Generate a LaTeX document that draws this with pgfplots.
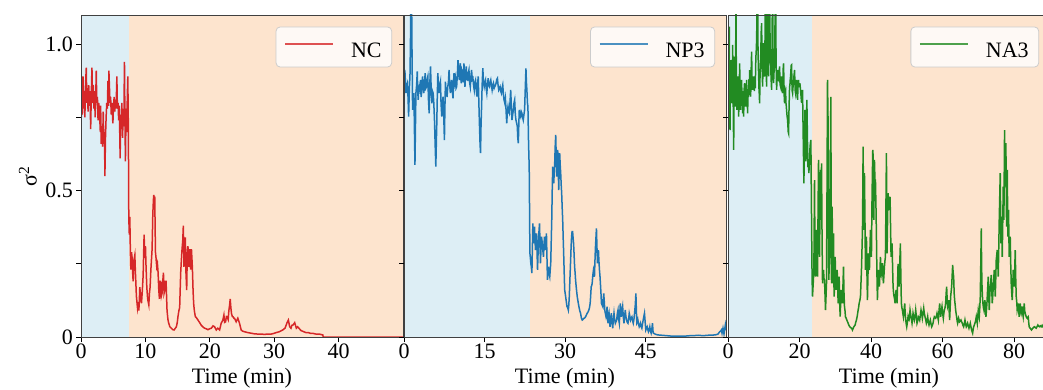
\documentclass[border=0pt]{standalone}
\usepackage{fontspec}
\setmainfont{Liberation Serif}
\usepackage{pgfplots}
\pgfplotsset{compat=1.18}
\definecolor{bgblue}{RGB}{221,238,245}
\definecolor{bgorange}{RGB}{253,228,206}
\definecolor{cred}{RGB}{214,39,40}
\definecolor{cblue}{RGB}{31,119,180}
\definecolor{cgreen}{RGB}{34,139,34}
\pgfplotsset{
 panel/.style={
  scale only axis, width=322pt, height=322pt, ymin=0, ymax=1.1,
  axis on top, tick align=outside, xtick pos=left, ytick pos=left,
  major tick length=5pt, tick style={black, line width=0.8pt},
  axis line style={black!75, line width=0.9pt},
  ytick={0,0.25,0.5,0.75,1}, yticklabels={},
  /pgf/number format/assume math mode=true,
  every x tick label/.style={anchor=north, inner sep=0pt, yshift=-2pt},
  every y tick label/.style={anchor=east, inner sep=0pt, xshift=-3pt},
  xlabel={Time (min)},
  every axis x label/.style={at={(rel axis cs:0.5,0)}, anchor=base, yshift=-46pt},
  every axis y label/.style={at={(rel axis cs:-0.165,0.5)}, anchor=center, rotate=90},
  legend style={at={(rel axis cs:0.966,0.964)}, anchor=north east, draw=black!20, fill=white, fill opacity=0.8, text opacity=1, rounded corners=4pt, line width=0.8pt, inner sep=0pt, nodes={inner sep=0pt}},
  legend cell align=left,
  legend image code/.code={\path[draw=none, fill=none] (0pt,-15pt) rectangle (75pt,25pt); \draw[#1, line width=1.5pt, opacity=0.8] (9pt,8pt) -- (57pt,8pt);},
 }
}
\begin{document}
\fontsize{22}{26}\selectfont
\begin{tikzpicture}
\useasboundingbox (0pt,0pt) rectangle (1043pt,-390pt);
% ---------------- Panel 1: NC
\begin{axis}[panel, at={(81pt,-337pt)}, anchor=south west, xmin=0, xmax=50,
  xtick={0,10,20,30,40}, yticklabels={0,,0.5,,1.0}, ylabel={σ\textsuperscript{2}}]
\addplot[draw=none, fill=bgblue, forget plot] coordinates {(0,1.1) (7.5,1.1)} \closedcycle;
\addplot[draw=none, fill=bgorange, forget plot] coordinates {(7.5,1.1) (50,1.1)} \closedcycle;
\addplot[cred, line width=1.5pt] coordinates {
(0,0.72) (0.1,0.80) (0.2,0.76) (0.31,0.89) (0.4,0.78) (0.5,0.84) (0.6,0.75) (0.7,0.86) (0.82,0.92) (0.9,0.80) (1.0,0.85) (1.1,0.77) (1.2,0.86) (1.3,0.79) (1.4,0.84) (1.5,0.71) (1.6,0.83) (1.7,0.92) (1.8,0.80) (1.9,0.86) (2.0,0.78) (2.1,0.84) (2.2,0.75) (2.3,0.83) (2.37,0.91) (2.45,0.80) (2.55,0.82) (2.65,0.74) (2.75,0.80) (2.89,0.76) (3.0,0.70) (3.05,0.79) (3.14,0.66) (3.25,0.72) (3.35,0.65) (3.45,0.77) (3.55,0.66) (3.65,0.70) (3.71,0.55) (3.8,0.68) (3.9,0.75) (4.0,0.80) (4.1,0.78) (4.18,0.875) (4.3,0.79) (4.33,0.91) (4.5,0.80) (4.6,0.82) (4.7,0.76) (4.8,0.80) (4.95,0.73) (5.05,0.79) (5.15,0.82) (5.25,0.77) (5.35,0.81) (5.45,0.78) (5.57,0.89) (5.65,0.78) (5.75,0.80) (5.85,0.74) (5.95,0.79) (6.08,0.61) (6.15,0.76) (6.25,0.71) (6.35,0.80) (6.45,0.68) (6.55,0.76) (6.65,0.72) (6.75,0.94) (6.82,0.75) (6.9,0.60) (7.0,0.78) (7.1,0.70) (7.2,0.83) (7.27,0.89) (7.35,0.72) (7.42,0.41) (7.5,0.35)
(7.58,0.41) (7.66,0.30) (7.74,0.23) (7.84,0.29) (7.94,0.27) (8.02,0.22) (8.10,0.19) (8.2,0.26) (8.36,0.28) (8.45,0.22) (8.51,0.19) (8.6,0.14) (8.77,0.10) (8.88,0.12) (8.98,0.09) (9.05,0.12) (9.13,0.17) (9.25,0.14) (9.39,0.115) (9.5,0.15) (9.65,0.21) (9.72,0.28) (9.80,0.35) (9.9,0.27) (10.01,0.31) (10.1,0.24) (10.22,0.17) (10.35,0.13) (10.53,0.11) (10.63,0.15) (10.73,0.17) (10.85,0.23) (11.04,0.30) (11.15,0.42) (11.25,0.47) (11.30,0.485) (11.38,0.44) (11.45,0.48) (11.56,0.29) (11.65,0.27) (11.76,0.24) (11.87,0.25) (11.97,0.22) (12.08,0.16) (12.18,0.13) (12.28,0.19) (12.38,0.19) (12.48,0.14) (12.59,0.15) (12.7,0.19) (12.80,0.22) (12.9,0.15) (13.0,0.16) (13.1,0.19) (13.21,0.19) (13.36,0.09) (13.5,0.06) (13.62,0.047) (13.8,0.035) (14.03,0.03) (14.25,0.025) (14.45,0.024) (14.65,0.03) (14.81,0.035) (14.95,0.05) (15.06,0.07) (15.2,0.09) (15.32,0.10) (15.4,0.16) (15.48,0.22) (15.58,0.26) (15.69,0.30) (15.8,0.33) (15.89,0.38) (15.99,0.24) (16.1,0.30) (16.20,0.34) (16.3,0.22) (16.41,0.16) (16.5,0.28) (16.61,0.31) (16.7,0.24) (16.87,0.30) (16.95,0.25) (17.03,0.23) (17.15,0.30) (17.29,0.24) (17.4,0.16) (17.49,0.115) (17.6,0.09) (17.75,0.07) (17.95,0.065) (18.16,0.058) (18.4,0.05) (18.68,0.04) (18.9,0.035) (19.19,0.03) (19.45,0.028) (19.71,0.025) (19.95,0.028) (20.23,0.03) (20.5,0.038) (20.74,0.035) (21.0,0.024) (21.25,0.03) (21.52,0.024) (21.77,0.047) (22.03,0.058) (22.19,0.075) (22.3,0.05) (22.45,0.052) (22.58,0.07) (22.70,0.069) (22.85,0.06) (22.96,0.09) (23.08,0.11) (23.17,0.13) (23.27,0.10) (23.37,0.08) (23.5,0.07) (23.63,0.069) (23.75,0.064) (23.84,0.064) (24.09,0.052) (24.35,0.064) (24.61,0.047) (24.87,0.024) (25.1,0.02) (25.39,0.018) (25.9,0.015) (26.42,0.013) (26.9,0.011) (27.45,0.01) (28.0,0.01) (28.48,0.009) (29.0,0.01) (29.52,0.01) (29.9,0.012) (30.29,0.015) (30.8,0.018) (31.32,0.024) (31.68,0.03) (31.85,0.04) (31.99,0.049) (32.2,0.058) (32.4,0.035) (32.61,0.03) (32.75,0.04) (32.92,0.041) (33.05,0.045) (33.18,0.049) (33.44,0.03) (33.64,0.035) (34.16,0.022) (34.93,0.015) (35.3,0.015) (35.71,0.012) (36.1,0.012) (36.48,0.01) (37.0,0.01) (37.56,0.007) (37.6,0) (50,0)
};
\addlegendentry{NC\kern10pt}
\end{axis}
% ---------------- Panel 2: NP3
\begin{axis}[panel, at={(404pt,-337pt)}, anchor=south west, xmin=0, xmax=60,
  xtick={0,15,30,45}]
\addplot[draw=none, fill=bgblue, forget plot] coordinates {(0,1.1) (23.4,1.1)} \closedcycle;
\addplot[draw=none, fill=bgorange, forget plot] coordinates {(23.4,1.1) (60,1.1)} \closedcycle;
\addplot[cblue, line width=1.5pt] coordinates {
(0,0.89) (0.19,0.90) (0.37,0.833) (0.5,0.86) (0.62,0.867) (0.75,0.82) (0.86,0.753) (1.0,0.85) (1.11,0.89) (1.2,1.0) (1.30,1.2) (1.40,1.2) (1.48,1.0) (1.60,0.776) (1.72,0.80) (1.85,0.833) (1.95,0.70) (2.04,0.588) (2.12,0.70) (2.22,0.833) (2.35,0.86) (2.47,0.907) (2.56,0.84) (2.65,0.81) (2.75,0.85) (2.84,0.844) (2.95,0.86) (3.09,0.878) (3.18,0.82) (3.27,0.833) (3.36,0.87) (3.46,0.89) (3.58,0.85) (3.70,0.833) (3.82,0.87) (3.95,0.901) (4.07,0.85) (4.20,0.855) (4.32,0.88) (4.44,0.89) (4.56,0.81) (4.69,0.764) (4.8,0.86) (4.94,0.924) (5.06,0.85) (5.19,0.798) (5.3,0.84) (5.43,0.833) (5.55,0.80) (5.68,0.741) (5.8,0.66) (5.93,0.582) (6.02,0.66) (6.11,0.73) (6.2,0.82) (6.30,0.901) (6.42,0.86) (6.54,0.833) (6.66,0.86) (6.79,0.872) (6.9,0.80) (7.04,0.753) (7.16,0.80) (7.28,0.821) (7.4,0.76) (7.53,0.673) (7.62,0.78) (7.72,0.872) (7.8,0.84) (7.90,0.844) (8.02,0.82) (8.15,0.855) (8.28,0.87) (8.40,0.912) (8.52,0.86) (8.64,0.833) (8.77,0.86) (8.89,0.878) (9.0,0.84) (9.14,0.815) (9.23,0.87) (9.32,0.901) (9.45,0.87) (9.57,0.884) (9.7,0.85) (9.81,0.855) (9.95,0.90) (10.06,0.946) (10.18,0.90) (10.31,0.878) (10.4,0.92) (10.49,0.935) (10.6,0.88) (10.68,0.867) (10.8,0.91) (10.93,0.901) (11.05,0.87) (11.17,0.935) (11.27,0.88) (11.36,0.855) (11.48,0.90) (11.60,0.924) (11.72,0.88) (11.85,0.878) (11.97,0.90) (12.10,0.912) (12.22,0.87) (12.35,0.855) (12.47,0.89) (12.59,0.912) (12.72,0.88) (12.84,0.884) (12.96,0.86) (13.09,0.844) (13.2,0.87) (13.33,0.878) (13.45,0.85) (13.58,0.821) (13.7,0.86) (13.83,0.89) (13.95,0.80) (14.07,0.719) (14.17,0.66) (14.26,0.628) (14.35,0.72) (14.44,0.776) (14.56,0.86) (14.69,0.918) (14.8,0.87) (14.94,0.855) (15.06,0.87) (15.19,0.878) (15.3,0.85) (15.43,0.833) (15.55,0.86) (15.68,0.884) (15.8,0.86) (15.93,0.855) (16.05,0.87) (16.17,0.878) (16.3,0.86) (16.42,0.844) (16.55,0.86) (16.67,0.867) (16.8,0.85) (16.91,0.855) (17.03,0.86) (17.16,0.867) (17.28,0.88) (17.41,0.884) (17.53,0.86) (17.65,0.844) (17.78,0.85) (17.90,0.855) (18.02,0.84) (18.15,0.833) (18.27,0.85) (18.40,0.861) (18.52,0.83) (18.64,0.81) (18.77,0.80) (18.89,0.815) (19.0,0.78) (19.14,0.73) (19.26,0.77) (19.38,0.787) (19.5,0.77) (19.63,0.764) (19.75,0.80) (19.88,0.844) (20.0,0.79) (20.12,0.741) (20.25,0.76) (20.37,0.776) (20.5,0.80) (20.62,0.81) (20.74,0.76) (20.86,0.741) (21.0,0.73) (21.11,0.719) (21.2,0.68) (21.30,0.662) (21.4,0.73) (21.48,0.776) (21.6,0.76) (21.73,0.753) (21.85,0.77) (21.98,0.764) (22.1,0.75) (22.22,0.741) (22.35,0.76) (22.47,0.776) (22.6,0.85) (22.72,0.918) (22.81,0.87) (22.90,0.844) (23.0,0.80) (23.09,0.787) (23.21,0.66) (23.33,0.58) (23.46,0.286)
(23.55,0.27) (23.64,0.25) (23.73,0.24) (23.83,0.218) (23.92,0.30) (24.01,0.388) (24.1,0.34) (24.2,0.32) (24.32,0.377) (24.41,0.33) (24.5,0.297) (24.6,0.33) (24.69,0.354) (24.78,0.30) (24.88,0.229) (24.97,0.28) (25.06,0.331) (25.15,0.36) (25.25,0.388) (25.34,0.32) (25.43,0.252) (25.52,0.30) (25.62,0.343) (25.71,0.33) (25.8,0.309) (25.9,0.29) (25.99,0.274) (26.08,0.31) (26.17,0.343) (26.27,0.32) (26.36,0.297) (26.45,0.33) (26.54,0.354) (26.63,0.28) (26.73,0.195) (26.82,0.22) (26.91,0.24) (27.0,0.22) (27.16,0.206) (27.25,0.23) (27.34,0.252) (27.44,0.33) (27.53,0.40) (27.62,0.50) (27.71,0.582) (27.8,0.55) (27.9,0.525) (27.99,0.56) (28.08,0.593) (28.17,0.65) (28.27,0.69) (28.36,0.62) (28.46,0.548) (28.55,0.60) (28.64,0.639) (28.73,0.58) (28.83,0.502) (28.92,0.57) (29.01,0.628) (29.1,0.59) (29.2,0.559) (29.29,0.52) (29.38,0.491) (29.48,0.44) (29.57,0.40) (29.66,0.34) (29.75,0.286) (29.85,0.22) (29.94,0.161) (30.03,0.15) (30.12,0.138) (30.25,0.12) (30.37,0.104) (30.5,0.10) (30.62,0.092) (30.71,0.11) (30.80,0.138) (30.92,0.20) (31.05,0.263) (31.14,0.31) (31.23,0.343) (31.32,0.36) (31.42,0.36) (31.5,0.34) (31.60,0.32) (31.7,0.28) (31.79,0.24) (31.88,0.22) (31.97,0.195) (32.12,0.165) (32.28,0.138) (32.44,0.12) (32.59,0.104) (32.75,0.09) (32.9,0.081) (33.05,0.065) (33.21,0.058) (33.36,0.06) (33.52,0.064) (33.67,0.065) (33.83,0.069) (33.98,0.075) (34.13,0.081) (34.28,0.085) (34.44,0.092) (34.56,0.10) (34.69,0.115) (34.78,0.14) (34.88,0.172) (34.97,0.175) (35.06,0.183) (35.18,0.21) (35.31,0.229) (35.4,0.22) (35.49,0.206) (35.58,0.26) (35.68,0.309) (35.77,0.34) (35.86,0.371) (35.95,0.31) (36.05,0.252) (36.14,0.27) (36.23,0.297) (36.32,0.26) (36.42,0.229) (36.51,0.21) (36.60,0.183) (36.7,0.15) (36.79,0.115) (36.9,0.11) (37.04,0.104) (37.13,0.13) (37.22,0.149) (37.32,0.12) (37.41,0.092) (37.53,0.08) (37.65,0.069) (37.75,0.08) (37.84,0.104) (37.93,0.07) (38.02,0.047) (38.11,0.07) (38.21,0.081) (38.3,0.06) (38.39,0.035) (38.52,0.06) (38.64,0.081) (38.76,0.05) (38.89,0.03) (39.01,0.06) (39.13,0.081) (39.25,0.06) (39.38,0.047) (39.5,0.052) (39.63,0.058) (39.75,0.08) (39.88,0.092) (40.0,0.06) (40.12,0.047) (40.21,0.08) (40.31,0.115) (40.4,0.09) (40.49,0.069) (40.62,0.09) (40.74,0.104) (40.86,0.07) (40.99,0.047) (41.11,0.07) (41.23,0.092) (41.35,0.07) (41.48,0.058) (41.6,0.05) (41.73,0.047) (41.85,0.06) (41.97,0.081) (42.1,0.07) (42.22,0.058) (42.35,0.065) (42.47,0.069) (42.6,0.055) (42.72,0.047) (42.84,0.06) (42.96,0.081) (43.1,0.11) (43.21,0.149) (43.3,0.09) (43.39,0.047) (43.48,0.05) (43.58,0.058) (43.7,0.045) (43.83,0.035) (43.95,0.04) (44.07,0.047) (44.2,0.035) (44.32,0.03) (44.45,0.045) (44.57,0.058) (44.69,0.07) (44.81,0.081) (44.94,0.05) (45.06,0.024) (45.18,0.03) (45.31,0.035) (45.43,0.025) (45.55,0.018) (45.68,0.025) (45.8,0.035) (45.92,0.02) (46.05,0.013) (46.17,0.025) (46.3,0.047) (46.4,0.02) (46.48,0.013) (46.79,0.01) (47.1,0.008) (47.41,0.007) (48.0,0.006) (48.64,0.005) (49.3,0.004) (49.88,0.003) (50.5,0.003) (51.11,0.003) (51.7,0.003) (52.35,0.003) (53.0,0.004) (53.58,0.005) (54.2,0.005) (54.81,0.006) (55.4,0.005) (56.05,0.005) (56.7,0.006) (57.28,0.006) (57.8,0.007) (58.21,0.008) (58.52,0.01) (58.7,0.015) (58.83,0.018) (59.0,0.02) (59.14,0.024) (59.26,0.013) (59.44,0.03) (59.63,0.01) (59.75,0.025) (59.88,0.041) (60.0,0.024)
};
\addlegendentry{NP3\kern10pt}
\end{axis}
% ---------------- Panel 3: NA3
\begin{axis}[panel, at={(728pt,-337pt)}, anchor=south west, xmin=0, xmax=90,
  xtick={0,20,40,60,80}]
\addplot[draw=none, fill=bgblue, forget plot] coordinates {(0,1.1) (23.4,1.1)} \closedcycle;
\addplot[draw=none, fill=bgorange, forget plot] coordinates {(23.4,1.1) (90,1.1)} \closedcycle;
\addplot[cgreen, line width=1.5pt] coordinates {
(0,0.80) (0.1,0.86) (0.19,0.833) (0.28,0.95) (0.37,1.06) (0.46,0.80) (0.56,0.707) (0.65,0.85) (0.75,0.80) (0.84,0.946) (0.93,0.82) (1.02,0.86) (1.12,0.798) (1.21,0.90) (1.30,0.998) (1.4,0.85) (1.49,0.76) (1.58,0.639) (1.67,0.80) (1.77,0.958) (1.86,0.84) (1.95,0.82) (2.05,0.787) (2.14,0.95) (2.23,1.2) (2.32,0.90) (2.42,0.82) (2.51,0.776) (2.6,0.85) (2.7,0.80) (2.79,0.89) (2.88,0.80) (2.98,0.753) (3.07,0.82) (3.16,0.86) (3.26,0.935) (3.35,0.84) (3.44,0.79) (3.53,0.776) (3.62,0.84) (3.72,0.82) (3.81,0.878) (3.9,0.80) (4.0,0.82) (4.09,0.764) (4.18,0.84) (4.28,0.80) (4.37,0.753) (4.46,0.82) (4.56,0.86) (4.65,0.867) (4.74,0.80) (4.84,0.84) (4.93,0.787) (5.02,0.83) (5.12,0.85) (5.21,0.878) (5.3,0.82) (5.4,0.80) (5.49,0.764) (5.58,0.84) (5.68,0.82) (5.77,0.833) (5.86,0.88) (5.96,0.85) (6.05,0.912) (6.14,0.86) (6.24,0.83) (6.33,0.821) (6.42,0.88) (6.51,0.93) (6.6,0.975) (6.7,0.88) (6.79,0.86) (6.88,0.844) (6.98,0.89) (7.07,0.85) (7.16,0.89) (7.26,0.87) (7.35,0.84) (7.44,0.855) (7.53,0.89) (7.63,0.85) (7.72,0.924) (7.81,0.96) (7.9,0.98) (8.0,1.015) (8.09,1.1) (8.18,1.15) (8.28,1.2) (8.37,1.0) (8.46,0.94) (8.56,0.89) (8.65,0.85) (8.74,0.83) (8.84,0.798) (8.93,0.88) (9.02,0.92) (9.12,0.946) (9.21,1.0) (9.3,1.05) (9.4,1.072) (9.49,0.95) (9.58,0.90) (9.67,0.855) (9.77,0.92) (9.86,0.98) (9.95,1.004) (10.05,0.93) (10.14,0.90) (10.23,0.89) (10.33,1.0) (10.42,1.15) (10.51,1.2) (10.6,1.0) (10.7,0.90) (10.79,0.855) (10.88,0.95) (10.98,1.1) (11.07,1.2) (11.16,1.0) (11.26,0.92) (11.35,0.89) (11.44,1.0) (11.54,1.15) (11.63,1.2) (11.72,1.05) (11.81,0.98) (11.91,0.946) (12.0,0.90) (12.09,0.87) (12.19,0.844) (12.28,0.95) (12.37,1.1) (12.47,1.2) (12.56,1.0) (12.65,0.90) (12.74,0.867) (12.84,0.90) (12.93,0.92) (13.02,0.935) (13.12,1.05) (13.21,1.15) (13.3,1.2) (13.4,1.0) (13.49,0.90) (13.58,0.844) (13.67,0.87) (13.77,0.89) (13.86,0.912) (13.95,0.89) (14.05,0.88) (14.14,0.878) (14.23,0.90) (14.33,0.91) (14.42,0.924) (14.51,0.88) (14.6,0.86) (14.7,0.855) (14.79,0.87) (14.88,0.88) (14.98,0.89) (15.07,0.86) (15.16,0.84) (15.26,0.833) (15.35,0.88) (15.44,0.92) (15.53,0.935) (15.63,0.87) (15.72,0.82) (15.81,0.798) (15.9,0.83) (16.0,0.84) (16.09,0.844) (16.19,0.80) (16.28,0.79) (16.37,0.776) (16.47,0.76) (16.56,0.75) (16.65,0.741) (16.75,0.72) (16.84,0.70) (16.93,0.696) (17.02,0.76) (17.12,0.81) (17.21,0.855) (17.3,0.86) (17.4,0.88) (17.49,0.89) (17.58,0.91) (17.68,0.929) (17.77,0.93) (17.86,0.87) (17.95,0.84) (18.05,0.833) (18.14,0.85) (18.23,0.86) (18.33,0.867) (18.42,0.89) (18.51,0.90) (18.6,0.912) (18.7,0.87) (18.79,0.84) (18.88,0.833) (18.98,0.85) (19.07,0.87) (19.16,0.878) (19.26,0.85) (19.35,0.83) (19.44,0.81) (19.54,0.85) (19.63,0.87) (19.72,0.878) (19.81,0.86) (19.91,0.855) (20.0,0.855) (20.09,0.867) (20.3,0.84) (20.56,0.80) (20.7,0.83) (20.83,0.844) (21.0,0.70) (21.21,0.525) (21.35,0.65) (21.49,0.776) (21.6,0.70) (21.76,0.60) (21.9,0.70) (22.04,0.81) (22.2,0.68) (22.32,0.58) (22.45,0.60) (22.6,0.56) (22.75,0.60) (22.88,0.639) (23.0,0.66) (23.16,0.673) (23.35,0.40) (23.5,0.20) (23.62,0.138)
(23.8,0.18) (24.0,0.229) (24.18,0.536) (24.3,0.30) (24.46,0.206) (24.6,0.30) (24.74,0.366) (24.88,0.25) (25.02,0.206) (25.15,0.40) (25.3,0.605) (25.45,0.40) (25.58,0.274) (25.72,0.45) (25.86,0.571) (26.0,0.40) (26.14,0.593) (26.28,0.35) (26.42,0.183) (26.55,0.21) (26.69,0.229) (26.83,0.20) (26.97,0.195) (27.1,0.15) (27.25,0.092) (27.4,0.14) (27.53,0.183) (27.67,0.50) (27.81,0.878) (28.0,0.707) (28.09,0.35) (28.18,0.195) (28.3,0.25) (28.46,0.297) (28.6,0.55) (28.74,0.82) (28.84,0.40) (28.93,0.183) (29.02,0.30) (29.11,0.445) (29.2,0.30) (29.3,0.183) (29.4,0.25) (29.49,0.354) (29.58,0.20) (29.67,0.138) (29.8,0.20) (29.95,0.274) (30.1,0.19) (30.23,0.161) (30.37,0.20) (30.51,0.229) (30.65,0.17) (30.79,0.115) (30.93,0.16) (31.07,0.206) (31.2,0.12) (31.35,0.07) (31.5,0.12) (31.62,0.161) (31.8,0.13) (32.0,0.115) (32.14,0.18) (32.28,0.24) (32.42,0.15) (32.56,0.104) (32.7,0.09) (32.83,0.069) (33.0,0.065) (33.21,0.058) (33.4,0.052) (33.58,0.047) (33.8,0.04) (34.04,0.035) (34.3,0.032) (34.51,0.03) (34.65,0.028) (34.79,0.024) (35.0,0.03) (35.16,0.035) (35.35,0.038) (35.53,0.041) (35.7,0.05) (35.9,0.058) (36.1,0.07) (36.37,0.092) (36.5,0.10) (36.65,0.115) (36.85,0.125) (37.02,0.138) (37.15,0.18) (37.3,0.229) (37.45,0.30) (37.58,0.366) (37.68,0.50) (37.76,0.65) (37.85,0.50) (37.95,0.366) (38.05,0.45) (38.14,0.56) (38.28,0.40) (38.42,0.229) (38.55,0.28) (38.69,0.343) (38.83,0.22) (38.97,0.126) (39.1,0.20) (39.25,0.286) (39.39,0.25) (39.53,0.229) (39.67,0.30) (39.81,0.366) (39.95,0.30) (40.09,0.274) (40.23,0.45) (40.37,0.571) (40.46,0.639) (40.56,0.62) (40.65,0.52) (40.74,0.40) (40.84,0.50) (40.93,0.605) (41.07,0.536) (41.21,0.536) (41.35,0.45) (41.49,0.343) (41.62,0.22) (41.76,0.126) (41.9,0.18) (42.04,0.229) (42.18,0.20) (42.32,0.172) (42.46,0.22) (42.6,0.274) (42.74,0.24) (42.88,0.218) (43.02,0.23) (43.16,0.252) (43.3,0.21) (43.44,0.183) (43.58,0.21) (43.72,0.24) (43.86,0.26) (44.0,0.274) (44.14,0.45) (44.28,0.628) (44.37,0.40) (44.46,0.286) (44.6,0.40) (44.74,0.491) (44.88,0.46) (45.02,0.434) (45.16,0.46) (45.3,0.479) (45.44,0.37) (45.58,0.274) (45.72,0.30) (45.86,0.32) (46.0,0.24) (46.14,0.172) (46.28,0.15) (46.42,0.138) (46.56,0.13) (46.7,0.115) (46.83,0.14) (46.97,0.161) (47.11,0.14) (47.25,0.115) (47.39,0.18) (47.53,0.25) (47.67,0.20) (47.81,0.172) (48.0,0.25) (48.18,0.32) (48.32,0.20) (48.46,0.115) (48.6,0.10) (48.74,0.092) (48.88,0.08) (49.02,0.069) (49.2,0.09) (49.39,0.115) (49.53,0.08) (49.67,0.058) (49.81,0.045) (49.95,0.035) (50.14,0.05) (50.32,0.069) (50.46,0.06) (50.6,0.058) (50.74,0.07) (50.88,0.092) (51.02,0.08) (51.16,0.069) (51.3,0.058) (51.44,0.047) (51.58,0.06) (51.72,0.081) (51.9,0.07) (52.09,0.058) (52.28,0.07) (52.46,0.092) (52.65,0.07) (52.83,0.047) (53.02,0.055) (53.21,0.069) (53.4,0.065) (53.58,0.058) (53.77,0.075) (53.95,0.092) (54.14,0.08) (54.32,0.064) (54.5,0.08) (54.7,0.098) (54.88,0.08) (55.07,0.069) (55.25,0.06) (55.44,0.047) (55.62,0.055) (55.81,0.069) (56.0,0.05) (56.18,0.041) (56.36,0.05) (56.55,0.058) (56.74,0.045) (56.93,0.035) (57.11,0.04) (57.3,0.047) (57.48,0.06) (57.67,0.069) (57.85,0.066) (58.04,0.064) (58.23,0.07) (58.42,0.081) (58.6,0.07) (58.79,0.058) (58.98,0.09) (59.16,0.115) (59.3,0.09) (59.44,0.069) (59.62,0.09) (59.81,0.104) (60.0,0.08) (60.18,0.064) (60.32,0.08) (60.46,0.092) (60.65,0.10) (60.83,0.115) (60.97,0.15) (61.11,0.172) (61.25,0.13) (61.39,0.104) (61.53,0.11) (61.67,0.126) (61.81,0.09) (61.95,0.058) (62.09,0.10) (62.23,0.138) (62.37,0.155) (62.51,0.172) (62.65,0.21) (62.79,0.246) (62.93,0.22) (63.07,0.206) (63.21,0.15) (63.35,0.126) (63.49,0.11) (63.63,0.092) (63.76,0.08) (63.9,0.069) (64.04,0.055) (64.18,0.047) (64.32,0.055) (64.46,0.064) (64.6,0.058) (64.74,0.052) (64.93,0.055) (65.11,0.058) (65.3,0.052) (65.49,0.047) (65.67,0.04) (65.86,0.035) (66.05,0.045) (66.23,0.058) (66.42,0.045) (66.6,0.035) (66.79,0.04) (66.97,0.047) (67.16,0.038) (67.35,0.03) (67.53,0.038) (67.72,0.047) (67.9,0.035) (68.09,0.024) (68.23,0.018) (68.37,0.013) (68.51,0.025) (68.65,0.035) (68.83,0.04) (69.02,0.047) (69.2,0.055) (69.39,0.069) (69.53,0.058) (69.67,0.047) (69.81,0.07) (69.95,0.092) (70.09,0.08) (70.23,0.069) (70.37,0.10) (70.51,0.138) (70.65,0.25) (70.79,0.371) (70.88,0.25) (70.97,0.183) (71.11,0.14) (71.25,0.115) (71.39,0.10) (71.53,0.092) (71.67,0.11) (71.81,0.126) (71.95,0.09) (72.09,0.069) (72.23,0.09) (72.37,0.115) (72.55,0.16) (72.74,0.206) (72.88,0.14) (73.02,0.092) (73.16,0.14) (73.3,0.172) (73.44,0.19) (73.58,0.212) (73.72,0.16) (73.86,0.115) (74.0,0.14) (74.14,0.172) (74.28,0.2) (74.42,0.229) (74.56,0.18) (74.7,0.138) (74.84,0.2) (74.97,0.263) (75.11,0.28) (75.25,0.297) (75.39,0.26) (75.53,0.206) (75.67,0.30) (75.81,0.40) (75.95,0.48) (76.09,0.56) (76.18,0.44) (76.28,0.32) (76.37,0.37) (76.46,0.411) (76.55,0.35) (76.65,0.274) (76.79,0.39) (76.93,0.514) (77.02,0.48) (77.11,0.40) (77.2,0.55) (77.3,0.707) (77.4,0.55) (77.49,0.514) (77.58,0.59) (77.67,0.662) (77.76,0.52) (77.86,0.377) (77.95,0.45) (78.05,0.571) (78.14,0.45) (78.23,0.343) (78.32,0.38) (78.42,0.434) (78.51,0.34) (78.6,0.274) (78.74,0.30) (78.88,0.343) (79.02,0.25) (79.16,0.183) (79.3,0.15) (79.44,0.126) (79.58,0.17) (79.72,0.229) (79.86,0.2) (80.0,0.172) (80.14,0.23) (80.28,0.297) (80.42,0.2) (80.56,0.138) (80.7,0.12) (80.83,0.092) (80.97,0.10) (81.11,0.115) (81.25,0.09) (81.39,0.069) (81.53,0.09) (81.67,0.115) (81.81,0.09) (81.95,0.081) (82.09,0.09) (82.23,0.104) (82.37,0.08) (82.51,0.069) (82.65,0.09) (82.79,0.115) (82.93,0.09) (83.07,0.081) (83.21,0.075) (83.35,0.069) (83.49,0.066) (83.63,0.064) (83.77,0.067) (83.91,0.069) (84.05,0.05) (84.18,0.035) (84.32,0.032) (84.46,0.03) (84.65,0.027) (84.83,0.024) (85.0,0.027) (85.2,0.03) (85.4,0.033) (85.67,0.035) (85.9,0.032) (86.14,0.03) (86.37,0.035) (86.6,0.041) (86.83,0.037) (87.07,0.035) (87.3,0.038) (87.53,0.035) (87.8,0.04) (88.0,0.035) (88.5,0.04) (89,0.035) (90,0.035)
};
\addlegendentry{NA3\kern10pt}
\end{axis}
\end{tikzpicture}
\end{document}
